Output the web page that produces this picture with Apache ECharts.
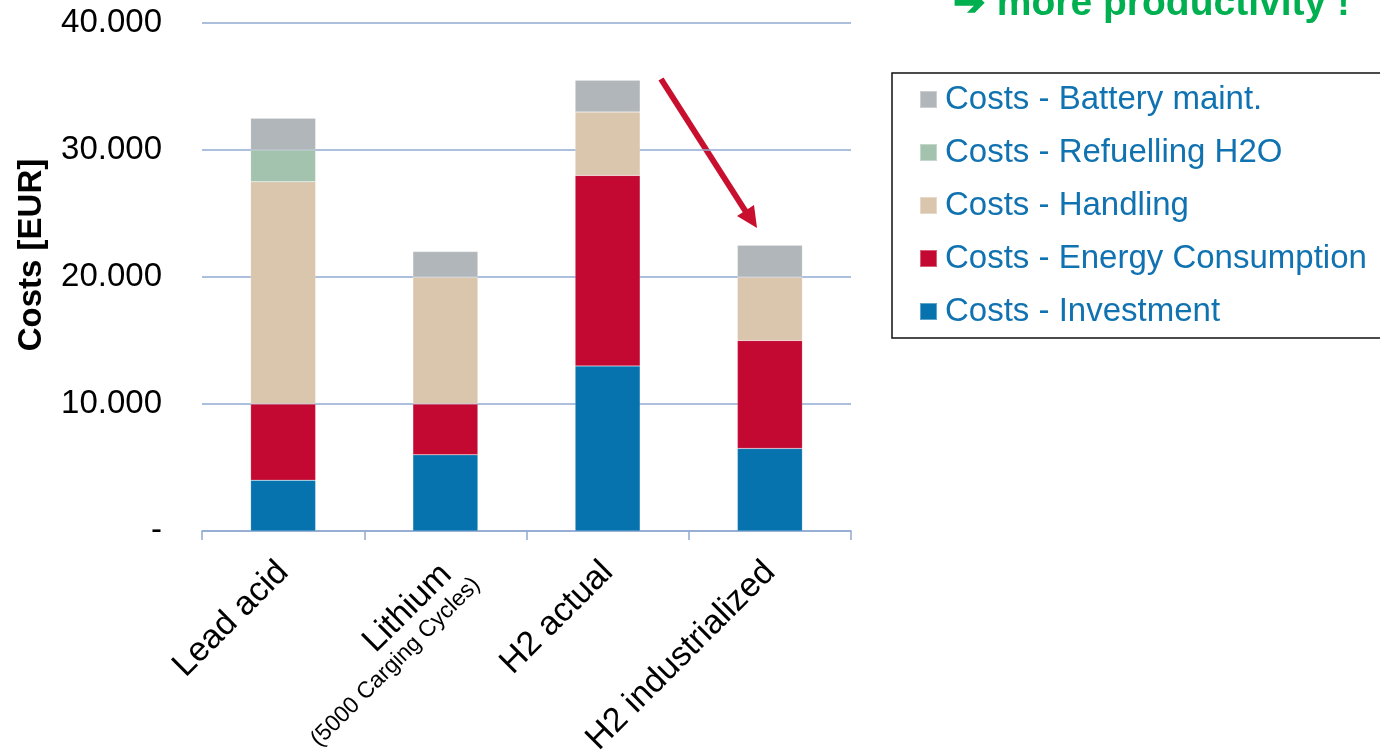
<!DOCTYPE html>
<html>
<head>
<meta charset="utf-8">
<title>Costs comparison</title>
<script src="https://cdn.jsdelivr.net/npm/echarts@6/dist/echarts.min.js"></script>
<style>
  html, body { margin: 0; padding: 0; background: #ffffff; }
  #chart { width: 1380px; height: 750px; }
</style>
</head>
<body>
<div id="chart"></div>
<script>
// Drive-train variants compared
const categories = ['Lead acid', 'Lithium', 'H2 actual', 'H2 industrialized'];

// Cost components per variant (EUR), stacked bottom to top
const investment   = [4000, 6000, 13000, 6500];
const energy       = [6000, 4000, 15000, 8500];
const handling     = [17500, 10000, 5000, 5000];
const refuelling   = [2500, 0, 0, 0];
const batteryMaint = [2500, 2000, 2500, 2500];

// Value axis ticks
const yTicks = [0, 10000, 20000, 30000, 40000];

const FONT = '"Liberation Sans", Arial, sans-serif';
const GRID_COLOR = '#90AAD2';

const seriesDefs = [
  { name: 'Costs - Investment',         data: investment,   color: '#0673AF' },
  { name: 'Costs - Energy Consumption', data: energy,       color: '#C30832' },
  { name: 'Costs - Handling',           data: handling,     color: '#DAC5AD' },
  { name: 'Costs - Refuelling H2O',     data: refuelling,   color: '#A4C3AF' },
  { name: 'Costs - Battery maint.',     data: batteryMaint, color: '#B0B6B9' }
];

function formatThousands(v) {
  if (v === 0) return '-';
  return String(v).replace(/\B(?=(\d{3})+(?!\d))/g, '.');
}

// The Lithium label carries a smaller second line and sits a little further out
const categoryItems = categories.map(c => (
  c === 'Lithium' ? { value: c, textStyle: { padding: [0, -12, 0, 0] } } : c
));

const chart = echarts.init(document.getElementById('chart'), null, { renderer: 'canvas' });

chart.setOption({
  animation: false,
  backgroundColor: '#ffffff',
  textStyle: { fontFamily: FONT },
  grid: {
    left: 202, right: 529, top: 23, bottom: 219,
    containLabel: false,
    outerBoundsMode: 'none'
  },
  legend: {
    orient: 'vertical',
    left: 892,
    top: 73,
    padding: [10, 40, 10, 27],
    backgroundColor: '#ffffff',
    borderColor: '#111111',
    borderWidth: 1.5,
    borderRadius: 0,
    itemWidth: 17,
    itemHeight: 17,
    itemGap: 20,
    icon: 'rect',
    data: seriesDefs.map(s => s.name).reverse(),
    textStyle: {
      fontFamily: FONT,
      fontSize: 33,
      lineHeight: 33,
      color: '#1072B0',
      padding: [0, 0, 0, 3]
    }
  },
  xAxis: {
    type: 'category',
    data: categoryItems,
    boundaryGap: true,
    axisLine: { show: true, lineStyle: { color: GRID_COLOR, width: 1.5 } },
    axisTick: { show: true, length: 9, alignWithLabel: false, lineStyle: { color: GRID_COLOR, width: 1.5 } },
    axisLabel: {
      interval: 0,
      rotate: 45,
      margin: 36,
      color: '#000000',
      fontFamily: FONT,
      fontSize: 34,
      formatter: function (v) {
        if (v === 'Lithium') return '{a|Lithium}\n{b|(5000 Carging Cycles)}';
        return v;
      },
      rich: {
        a: { fontFamily: FONT, fontSize: 34, color: '#000000', padding: [30, 13, 0, 0] },
        b: { fontFamily: FONT, fontSize: 23, color: '#000000', lineHeight: 25 }
      }
    }
  },
  yAxis: {
    type: 'value',
    min: yTicks[0],
    max: yTicks[yTicks.length - 1],
    interval: yTicks[1] - yTicks[0],
    name: 'Costs [EUR]',
    nameLocation: 'middle',
    nameGap: 154,
    nameTextStyle: {
      fontFamily: FONT,
      fontSize: 33,
      fontWeight: 'bold',
      color: '#000000',
      padding: [0, 0, 0, 44]
    },
    axisLine: { show: false },
    axisTick: { show: false },
    splitLine: { show: true, lineStyle: { color: GRID_COLOR, width: 1.5 } },
    axisLabel: {
      margin: 40,
      color: '#000000',
      fontFamily: FONT,
      fontSize: 33,
      formatter: formatThousands
    }
  },
  series: seriesDefs.map(s => ({
    name: s.name,
    type: 'bar',
    stack: 'costs',
    barWidth: 65,
    data: s.data,
    itemStyle: { color: s.color, borderColor: 'rgba(255,255,255,0.35)', borderWidth: 0.5 },
    emphasis: { disabled: true }
  })),
  graphic: [
    {
      type: 'text',
      left: 953,
      top: -15,
      style: {
        text: '\u2794 more productivity !',
        font: 'bold 39px ' + FONT,
        fill: '#00B050'
      }
    },
    {
      type: 'group',
      children: [
        {
          type: 'line',
          shape: { x1: 661, y1: 79, x2: 746, y2: 212 },
          style: { stroke: '#C8102E', lineWidth: 6, lineCap: 'butt' }
        },
        {
          type: 'polygon',
          shape: { points: [[757, 228], [737, 216], [754, 205]] },
          style: { fill: '#C8102E' }
        }
      ]
    }
  ]
});
</script>
</body>
</html>
